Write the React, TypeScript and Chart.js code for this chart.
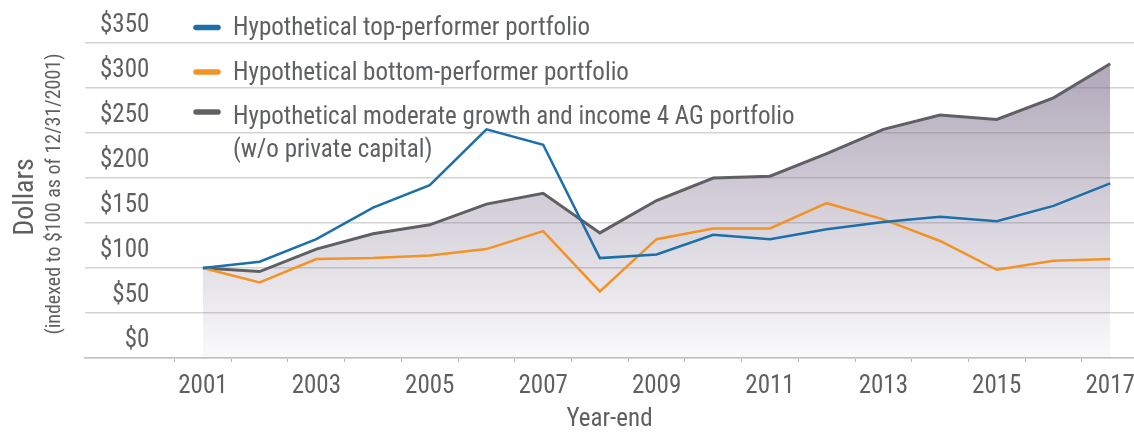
import React, { useEffect, useRef } from 'react';
import { Chart, registerables } from 'chart.js';

Chart.register(...registerables);

// ---------- data ----------
const years = [2001, 2002, 2003, 2004, 2005, 2006, 2007, 2008, 2009, 2010, 2011, 2012, 2013, 2014, 2015, 2016, 2017];
const topPerformer = [100, 107, 132, 167, 192, 254, 237, 111, 115, 137, 132, 143, 151, 157, 152, 169, 194];
const bottomPerformer = [100, 84, 110, 111, 114, 121, 141, 74, 132, 144, 144, 172, 154, 130, 98, 108, 110];
const moderateGrowth = [100, 96, 121, 138, 148, 171, 183, 139, 175, 200, 202, 227, 254, 270, 265, 289, 327];
const xTickYears = [2001, 2003, 2005, 2007, 2009, 2011, 2013, 2015, 2017];
const yTickValues = [0, 50, 100, 150, 200, 250, 300, 350];
const seriesLabels = [
  'Hypothetical top-performer portfolio',
  'Hypothetical bottom-performer portfolio',
  'Hypothetical moderate growth and income 4 AG portfolio (w/o private capital)',
];
const legendLines = [
  ['Hypothetical top-performer portfolio'],
  ['Hypothetical bottom-performer portfolio'],
  ['Hypothetical moderate growth and income 4 AG portfolio', '(w/o private capital)'],
];
const xTitle = 'Year-end';
const yTitle = 'Dollars';
const ySubtitle = '(indexed to $100 as of 12/31/2001)';

// ---------- style ----------
const FONT = "'Roboto Condensed', 'Liberation Sans Narrow', 'DejaVu Sans Condensed', sans-serif";
const TEXT = '#5f6062';
const BLUE = '#1c6fa9';
const ORANGE = '#f39325';
const GRAY = '#5f6064';

const toPoints = (vals: number[]) => years.map((y, i) => ({ x: y, y: vals[i] }));

const overlayPlugin = {
  id: 'legendAndTitles',
  afterDraw(chart: any) {
    const ctx = chart.ctx as CanvasRenderingContext2D;
    ctx.save();
    // legend
    const markerY = [27.5, 72, 112];
    const baselines = [[35, 80, 123.5], [156.5]];
    ctx.lineCap = 'round';
    chart.data.datasets.forEach((ds: any, i: number) => {
      ctx.strokeStyle = ds.borderColor;
      ctx.lineWidth = 5.5;
      ctx.beginPath();
      ctx.moveTo(196, markerY[i]);
      ctx.lineTo(218, markerY[i]);
      ctx.stroke();
      ctx.fillStyle = TEXT;
      ctx.font = `25px ${FONT}`;
      ctx.textAlign = 'left';
      ctx.textBaseline = 'alphabetic';
      legendLines[i].forEach((line, j) => {
        const y = j === 0 ? baselines[0][i] : baselines[1][0];
        ctx.fillText(line, 233, y);
      });
    });
    // y axis title
    ctx.fillStyle = TEXT;
    ctx.textAlign = 'center';
    ctx.textBaseline = 'alphabetic';
    ctx.save();
    ctx.translate(33, 197);
    ctx.rotate(-Math.PI / 2);
    ctx.font = `28px ${FONT}`;
    ctx.fillText(yTitle, 0, 0);
    ctx.restore();
    ctx.save();
    ctx.translate(59.5, 194);
    ctx.rotate(-Math.PI / 2);
    ctx.font = `20px ${FONT}`;
    ctx.fillText(ySubtitle, 0, 0);
    ctx.restore();
    ctx.restore();
  },
};

export default function App() {
  const ref = useRef<HTMLCanvasElement | null>(null);

  useEffect(() => {
    if (!ref.current) return;
    const chart = new Chart(ref.current, {
      type: 'line',
      data: {
        datasets: [
          {
            label: seriesLabels[0],
            data: toPoints(topPerformer),
            borderColor: BLUE,
            borderWidth: 2.5,
            pointRadius: 0,
            fill: false,
            tension: 0,
          },
          {
            label: seriesLabels[1],
            data: toPoints(bottomPerformer),
            borderColor: ORANGE,
            borderWidth: 2.5,
            pointRadius: 0,
            fill: false,
            tension: 0,
          },
          {
            label: seriesLabels[2],
            data: toPoints(moderateGrowth),
            borderColor: GRAY,
            borderWidth: 3,
            pointRadius: 0,
            fill: 'origin',
            tension: 0,
            backgroundColor: (c: any) => {
              const area = c.chart.chartArea;
              if (!area) return 'rgba(120,105,135,0.3)';
              const g = c.chart.ctx.createLinearGradient(0, area.top, 0, area.bottom);
              g.addColorStop(0, 'rgba(120,105,135,0.62)');
              g.addColorStop(1, 'rgba(120,105,135,0.04)');
              return g;
            },
          },
        ],
      },
      options: {
        animation: false,
        responsive: false,
        devicePixelRatio: 1,
        layout: { padding: { top: 43, left: 0, right: 0, bottom: 0 }, autoPadding: false },
        plugins: { legend: { display: false }, tooltip: { enabled: false } },
        scales: {
          x: {
            type: 'linear',
            min: 1998.92,
            max: 2017.42,
            afterBuildTicks: (axis: any) => {
              const vals = [...years.map((y) => y - 0.5), ...xTickYears].sort((a, b) => a - b);
              axis.ticks = vals.map((v) => ({ value: v }));
            },
            afterFit: (scale: any) => {
              scale.height = 74;
              scale.paddingLeft = 0;
              scale.paddingRight = 0;
            },
            ticks: {
              autoSkip: false,
              maxRotation: 0,
              minRotation: 0,
              padding: 10,
              color: TEXT,
              font: { family: FONT, size: 25 },
              callback: (v: any) => (xTickYears.includes(Number(v)) ? String(v) : ''),
            },
            grid: {
              drawOnChartArea: false,
              drawTicks: true,
              tickLength: 4,
              lineWidth: 1,
              tickColor: (c: any) =>
                c.tick && !Number.isInteger(c.tick.value) ? '#b5b5b5' : 'rgba(0,0,0,0)',
            },
            border: { display: true, color: '#c2c2c2', width: 1.5 },
            title: {
              display: true,
              text: xTitle,
              color: TEXT,
              font: { family: FONT, size: 25, lineHeight: 1 },
              padding: { top: 0, bottom: 0 },
            },
          },
          y: {
            min: 0,
            max: 350,
            afterBuildTicks: (axis: any) => {
              axis.ticks = yTickValues.map((v) => ({ value: v }));
            },
            afterFit: (scale: any) => {
              scale.width = 85;
              scale.paddingTop = 0;
              scale.paddingBottom = 0;
            },
            ticks: {
              autoSkip: false,
              mirror: true,
              crossAlign: 'far',
              padding: 15,
              labelOffset: -17,
              color: TEXT,
              font: { family: FONT, size: 25 },
              callback: (v: any) => '$' + v,
            },
            grid: { color: '#d3d3d3', lineWidth: 1.5, drawTicks: false },
            border: { display: false },
          },
        },
      },
      plugins: [overlayPlugin],
    } as any);
    return () => chart.destroy();
  }, []);

  return (
    <div style={{ position: 'fixed', left: 0, top: 0, width: 1134, height: 432, background: '#fff' }}>
      <canvas ref={ref} width={1134} height={432} />
    </div>
  );
}
